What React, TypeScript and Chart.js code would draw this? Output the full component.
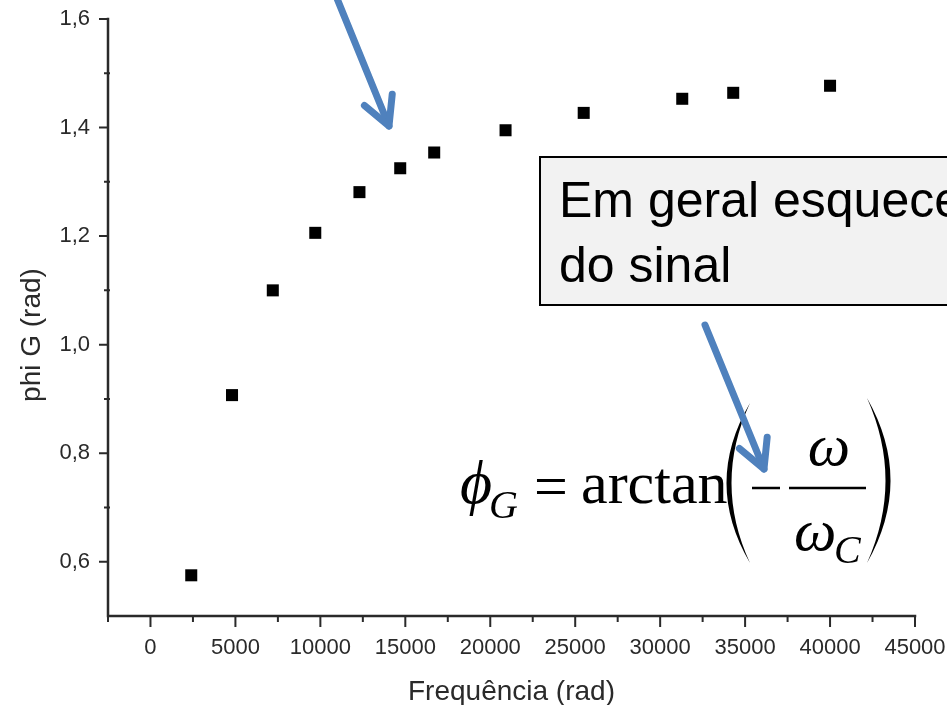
import { useEffect, useRef } from 'react';
import { Chart, registerables } from 'chart.js';

Chart.register(...registerables);

// Measured phase of G versus angular frequency
const frequency = [2400, 4800, 7200, 9700, 12300, 14700, 16700, 20900, 25500, 31300, 34300, 40000];
const phiG = [0.575, 0.907, 1.1, 1.206, 1.281, 1.325, 1.354, 1.395, 1.427, 1.453, 1.464, 1.477];

// Axis ticks
const xMajorTicks = [0, 5000, 10000, 15000, 20000, 25000, 30000, 35000, 40000, 45000];
const xMinorTicks = [-2500, 2500, 7500, 12500, 17500, 22500, 27500, 32500, 37500, 42500];
const yMajorTicks = [0.6, 0.8, 1.0, 1.2, 1.4, 1.6];
const yMinorTicks = [0.7, 0.9, 1.1, 1.3, 1.5];

const xTitle = 'Frequência (rad)';
const yTitle = 'phi G (rad)';
const noteLines = ['Em geral esquecemos', 'do sinal'];

const SANS = '"Liberation Sans", Arial, sans-serif';
const SERIF = '"Liberation Serif", "Times New Roman", serif';
const AXIS_COLOR = '#2a2a2a';
const ARROW_BLUE = '#4f81bd';

function drawArrow(ctx: CanvasRenderingContext2D, x0: number, y0: number, x1: number, y1: number) {
  const ang = Math.atan2(y1 - y0, x1 - x0);
  const back = ang + Math.PI;
  const spread = (28 * Math.PI) / 180;
  const len = 32;
  ctx.save();
  ctx.strokeStyle = ARROW_BLUE;
  ctx.lineWidth = 7;
  ctx.lineCap = 'round';
  ctx.lineJoin = 'round';
  ctx.beginPath();
  ctx.moveTo(x0, y0);
  ctx.lineTo(x1, y1);
  ctx.stroke();
  ctx.beginPath();
  ctx.moveTo(x1 + len * Math.cos(back - spread), y1 + len * Math.sin(back - spread));
  ctx.lineTo(x1, y1);
  ctx.lineTo(x1 + len * Math.cos(back + spread), y1 + len * Math.sin(back + spread));
  ctx.stroke();
  ctx.restore();
}

function drawParen(ctx: CanvasRenderingContext2D, x: number, top: number, bottom: number, outerCtrl: number, innerCtrl: number) {
  const mid = (top + bottom) / 2;
  ctx.beginPath();
  ctx.moveTo(x, top);
  ctx.quadraticCurveTo(outerCtrl, mid, x, bottom);
  ctx.quadraticCurveTo(innerCtrl, mid, x, top);
  ctx.closePath();
  ctx.fill();
}

const overlayPlugin = {
  id: 'axesAndNotes',
  afterDraw(chart: any) {
    const { ctx, chartArea } = chart;
    const xs = chart.scales.x;
    const ys = chart.scales.y;
    const { left, right, top, bottom } = chartArea;

    ctx.save();
    // axis lines
    ctx.strokeStyle = AXIS_COLOR;
    ctx.lineWidth = 2.5;
    ctx.lineCap = 'square';
    ctx.beginPath();
    ctx.moveTo(left, top);
    ctx.lineTo(left, bottom);
    ctx.lineTo(right, bottom);
    ctx.stroke();

    // tick marks (major longer, minor shorter)
    ctx.lineWidth = 2;
    ctx.lineCap = 'butt';
    ctx.beginPath();
    xMajorTicks.forEach((v) => {
      const px = xs.getPixelForValue(v);
      ctx.moveTo(px, bottom);
      ctx.lineTo(px, bottom + 11);
    });
    xMinorTicks.forEach((v) => {
      const px = xs.getPixelForValue(v);
      ctx.moveTo(px, bottom);
      ctx.lineTo(px, bottom + 6);
    });
    yMajorTicks.forEach((v) => {
      const py = ys.getPixelForValue(v);
      ctx.moveTo(left, py);
      ctx.lineTo(left - 9, py);
    });
    yMinorTicks.forEach((v) => {
      const py = ys.getPixelForValue(v);
      ctx.moveTo(left + 2, py);
      ctx.lineTo(left - 4, py);
    });
    ctx.stroke();

    // axis titles
    ctx.fillStyle = AXIS_COLOR;
    ctx.font = `28px ${SANS}`;
    ctx.textAlign = 'center';
    ctx.textBaseline = 'alphabetic';
    ctx.fillText(xTitle, (left + right) / 2, 700);
    ctx.save();
    ctx.translate(40, 335);
    ctx.rotate(-Math.PI / 2);
    ctx.fillText(yTitle, 0, 0);
    ctx.restore();

    // note box
    ctx.fillStyle = '#f2f2f2';
    ctx.fillRect(540, 157, 420, 148);
    ctx.strokeStyle = '#000000';
    ctx.lineWidth = 2;
    ctx.strokeRect(540, 157, 420, 148);
    ctx.fillStyle = '#000000';
    ctx.font = `50px ${SANS}`;
    ctx.textAlign = 'left';
    ctx.fillText(noteLines[0], 559, 217);
    ctx.fillText(noteLines[1], 559, 282);

    // formula: phi_G = arctan(-omega / omega_C)
    ctx.fillStyle = '#000000';
    ctx.font = `italic 62px ${SERIF}`;
    ctx.fillText('ϕ', 460, 503);
    ctx.font = `italic 40px ${SERIF}`;
    ctx.fillText('G', 489, 518);
    ctx.font = `60px ${SERIF}`;
    ctx.fillText('=', 534, 506);
    ctx.fillText('arctan', 581, 503);
    drawParen(ctx, 750, 403, 563, 703, 713);
    drawParen(ctx, 867, 398, 563, 914, 904);
    ctx.strokeStyle = '#000000';
    ctx.lineWidth = 2.5;
    ctx.beginPath();
    ctx.moveTo(752, 488);
    ctx.lineTo(780, 488);
    ctx.moveTo(789, 488);
    ctx.lineTo(866, 488);
    ctx.stroke();
    ctx.font = `italic 60px ${SERIF}`;
    ctx.textAlign = 'center';
    ctx.fillText('ω', 829, 465);
    ctx.textAlign = 'left';
    ctx.fillText('ω', 794, 550);
    ctx.font = `italic 40px ${SERIF}`;
    ctx.fillText('C', 834, 563);

    // pointer arrows
    drawArrow(ctx, 336, -4, 389, 126);
    drawArrow(ctx, 705, 325, 764, 469);
    ctx.restore();
  },
};

export default function App() {
  const canvasRef = useRef<HTMLCanvasElement | null>(null);

  useEffect(() => {
    const canvas = canvasRef.current;
    if (!canvas) return;
    const tickFont = { family: SANS, size: 22 };
    const chart = new Chart(canvas, {
      type: 'scatter',
      data: {
        datasets: [
          {
            data: frequency.map((f, i) => ({ x: f, y: phiG[i] })),
            pointStyle: 'rect',
            pointRadius: 8.5,
            pointHoverRadius: 8.5,
            backgroundColor: '#000000',
            borderWidth: 0,
          },
        ],
      },
      options: {
        responsive: false,
        animation: false,
        devicePixelRatio: 1,
        layout: { padding: { top: 19, right: 32, left: 0, bottom: 0 } },
        plugins: { legend: { display: false }, tooltip: { enabled: false } },
        scales: {
          x: {
            type: 'linear',
            min: -2500,
            max: 45000,
            afterBuildTicks: (s: any) => {
              s.ticks = xMajorTicks.map((v) => ({ value: v }));
            },
            afterFit: (s: any) => {
              s.height = 89;
              s.paddingLeft = 0;
              s.paddingRight = 0;
            },
            grid: { display: false, drawTicks: false, tickLength: 0 },
            border: { display: false },
            ticks: {
              font: tickFont,
              color: AXIS_COLOR,
              padding: 19,
              maxRotation: 0,
              autoSkip: false,
              callback: (v: any) => String(v),
            },
          },
          y: {
            type: 'linear',
            min: 0.5,
            max: 1.6,
            afterBuildTicks: (s: any) => {
              s.ticks = yMajorTicks.map((v) => ({ value: v }));
            },
            afterFit: (s: any) => {
              s.width = 108;
              s.paddingTop = 0;
              s.paddingBottom = 0;
            },
            grid: { display: false, drawTicks: false, tickLength: 0 },
            border: { display: false },
            ticks: {
              font: tickFont,
              color: AXIS_COLOR,
              padding: 18,
              autoSkip: false,
              callback: (v: any) => Number(v).toFixed(1).replace('.', ','),
            },
          },
        },
      },
      plugins: [overlayPlugin],
    });
    return () => chart.destroy();
  }, []);

  return (
    <div style={{ position: 'absolute', left: 0, top: 0, width: 947, height: 705, background: '#ffffff', overflow: 'hidden' }}>
      <canvas ref={canvasRef} width={947} height={705} style={{ display: 'block' }} />
    </div>
  );
}
